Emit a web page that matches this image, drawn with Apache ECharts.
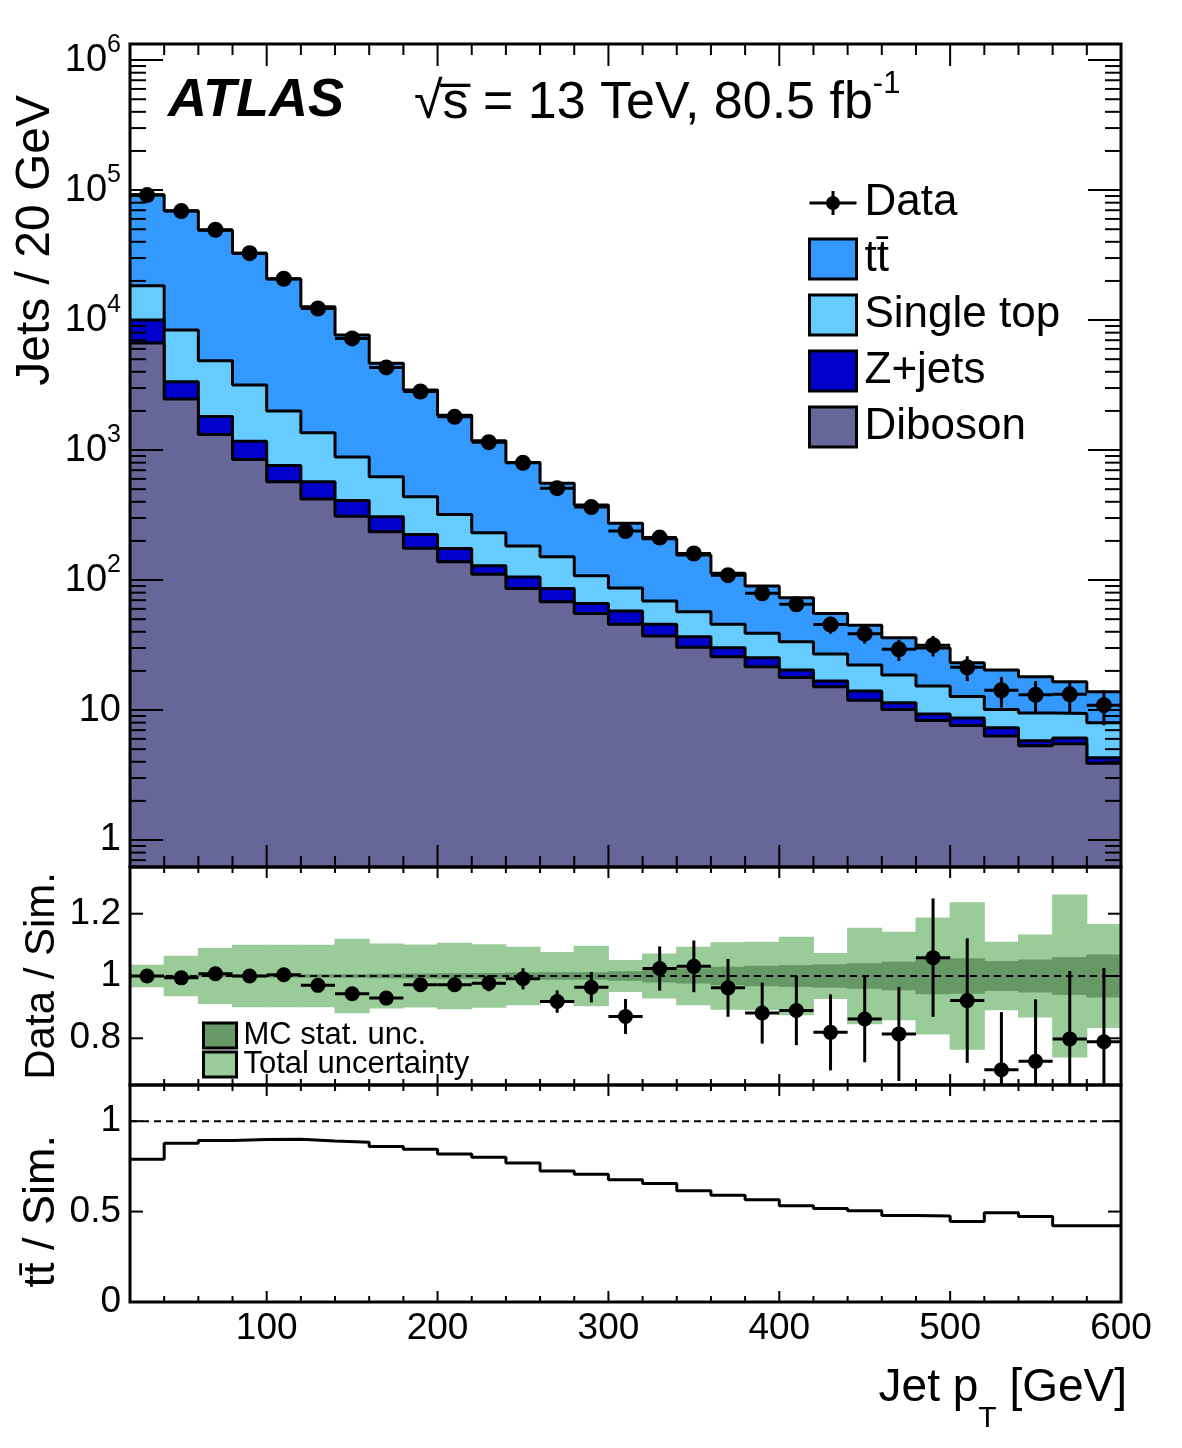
<!DOCTYPE html>
<html>
<head>
<meta charset="utf-8">
<title>Jet pT</title>
<script src="https://cdn.jsdelivr.net/npm/echarts@6/dist/echarts.min.js"></script>
<style>
  html, body { margin: 0; padding: 0; background: #ffffff; }
  #chart { width: 1182px; height: 1448px; }
</style>
</head>
<body>
<div id="chart"></div>
<script>
var FAMILY = '"Liberation Sans", Arial, Helvetica, sans-serif';

// binning: low edges in GeV, 20 GeV wide
var binLow = [20, 40, 60, 80, 100, 120, 140, 160, 180, 200, 220, 240, 260, 280, 300,
              320, 340, 360, 380, 400, 420, 440, 460, 480, 500, 520, 540, 560, 580];
var binWidth = 20;

// simulated yields per bin
var ttbar     = [73600, 60900, 44300, 29500, 18700, 11300, 6790, 4030, 2460, 1530, 949, 621, 404, 270, 186,
                 139, 99, 67.4, 51, 39.5, 28.4, 22.7, 17.4, 14.7, 10.4, 10.2, 8.5, 7.1, 5.8];
var singleTop = [8400, 5030, 3050, 1990, 1240, 790, 475, 316, 213, 145, 102, 77, 65, 42, 29.2,
                 23.4, 20.4, 15.4, 13.7, 13.2, 10.3, 8.2, 7.2, 6.0, 4.0, 2.8, 3.7, 3.3, 3.7];
var zJets     = [3350, 890, 500, 325, 190, 150, 100, 72, 48, 37, 18, 19.7, 18, 10.6, 12.2,
                 8.5, 6.2, 4.5, 3.8, 2.5, 1.6, 2.1, 1.3, 1.0, 1.1, 1.0, 0.5, 0.6, 0.4];
var diboson   = [6650, 2470, 1315, 845, 570, 420, 310, 235, 176, 138, 111, 86, 68, 55.4, 45.6,
                 37.1, 30.4, 25.7, 21.5, 17.8, 15.1, 11.9, 10.1, 8.3, 7.6, 6.3, 5.3, 5.5, 3.9];

// data
var dataCounts = [91500, 68900, 49500, 32700, 20800, 12270, 7230, 4320, 2820, 1800, 1150, 797, 509, 364, 238,
                  212, 160, 109, 79, 65, 45.4, 38.7, 29.3, 31.5, 21.3, 14.2, 13.1, 13.2, 10.9];

// data / sim ratio panel
var ratioData = [1.0, 0.994, 1.007, 1.0, 1.004, 0.970, 0.943, 0.929, 0.972, 0.972, 0.977, 0.991, 0.918, 0.964, 0.870,
                 1.024, 1.031, 0.962, 0.881, 0.889, 0.819, 0.862, 0.814, 1.059, 0.921, 0.699, 0.726, 0.798, 0.789];
var ratioErr  = [0.003, 0.004, 0.005, 0.006, 0.007, 0.009, 0.012, 0.015, 0.019, 0.023, 0.026, 0.034, 0.036, 0.049, 0.056,
                 0.071, 0.083, 0.093, 0.098, 0.111, 0.122, 0.139, 0.151, 0.190, 0.200, 0.185, 0.199, 0.218, 0.237];
var mcStatUnc = [0.003, 0.004, 0.004, 0.005, 0.005, 0.006, 0.006, 0.007, 0.008, 0.009, 0.010, 0.011, 0.012, 0.012, 0.015,
                 0.021, 0.024, 0.030, 0.033, 0.035, 0.038, 0.041, 0.046, 0.059, 0.057, 0.048, 0.053, 0.061, 0.069];
var totalUnc  = [0.036, 0.065, 0.090, 0.100, 0.100, 0.100, 0.120, 0.104, 0.101, 0.107, 0.102, 0.094, 0.077, 0.097, 0.051,
                 0.072, 0.094, 0.108, 0.110, 0.126, 0.074, 0.155, 0.142, 0.188, 0.237, 0.110, 0.133, 0.262, 0.167];

// ttbar / sim panel
var ttFraction = [0.790, 0.878, 0.893, 0.898, 0.900, 0.891, 0.884, 0.860, 0.845, 0.819, 0.801, 0.768, 0.725, 0.707, 0.676,
                  0.655, 0.615, 0.591, 0.565, 0.532, 0.517, 0.504, 0.478, 0.475, 0.445, 0.493, 0.473, 0.421, 0.421];

// ticks and labels
var xLabelValues = [100, 200, 300, 400, 500, 600];
var xLabelText = ['100', '200', '300', '400', '500', '600'];
var logTickValues = [1, 10, 100, 1000, 10000, 100000, 1000000];
var logTickText = ['{b|1}', '{b|10}', '{b|10}{s|2}', '{b|10}{s|3}', '{b|10}{s|4}', '{b|10}{s|5}', '{b|10}{s|6}'];
var ratioTickValues = [0.8, 1, 1.2];
var ratioTickText = ['0.8', '1', '1.2'];
var fracTickValues = [0, 0.5, 1];
var fracTickText = ['0', '0.5', '1'];

var X_MIN = 20, X_MAX = 600;
var TOP_MIN = 0.62, TOP_MAX = 1.33e6;

var chart = echarts.init(document.getElementById('chart'), null, { renderer: 'canvas' });

// cumulative stack edges
var n = binLow.length;
var cumDib = [], cumZ = [], cumST = [], cumTot = [];
for (var i = 0; i < n; i++) {
    cumDib.push(diboson[i]);
    cumZ.push(cumDib[i] + zJets[i]);
    cumST.push(cumZ[i] + singleTop[i]);
    cumTot.push(cumST[i] + ttbar[i]);
}

function stepData(vals) {
    var d = [];
    for (var i = 0; i < vals.length; i++) d.push([binLow[i], vals[i]]);
    d.push([binLow[n - 1] + binWidth, vals[n - 1]]);
    return d;
}

function stackSeries(name, vals, color, z) {
    return {
        name: name, type: 'line', xAxisIndex: 0, yAxisIndex: 0,
        step: 'end', data: stepData(vals), symbol: 'none', showSymbol: false,
        lineStyle: { color: '#000', width: 3 },
        itemStyle: { color: color },
        areaStyle: { color: color, opacity: 1, origin: 'start' },
        z: z, silent: true, animation: false
    };
}

function pointsSeries(name, gi, vals, errs, r, z) {
    return {
        name: name, type: 'custom', xAxisIndex: gi, yAxisIndex: gi, z: z,
        clip: true, silent: true, animation: false,
        itemStyle: { color: '#000' },
        data: vals.map(function (v, i) {
            return [binLow[i] + binWidth / 2, v, binLow[i], binLow[i] + binWidth, errs[i]];
        }),
        renderItem: function (params, api) {
            var xc = api.value(0), y = api.value(1), e = api.value(4);
            var c = api.coord([xc, y]);
            var l = api.coord([api.value(2), y]);
            var h = api.coord([api.value(3), y]);
            var up = api.coord([xc, y + e]);
            var dn = api.coord([xc, y - e]);
            var ls = { stroke: '#000', lineWidth: 3 };
            return {
                type: 'group',
                children: [
                    { type: 'line', shape: { x1: l[0], y1: c[1], x2: h[0], y2: c[1] }, style: ls },
                    { type: 'line', shape: { x1: c[0], y1: up[1], x2: c[0], y2: dn[1] }, style: ls },
                    { type: 'circle', shape: { cx: c[0], cy: c[1], r: r }, style: { fill: '#000' } }
                ]
            };
        }
    };
}

function bandSeries(name, errs, color, z) {
    return {
        name: name, type: 'custom', xAxisIndex: 1, yAxisIndex: 1, z: z,
        clip: true, silent: true, animation: false,
        itemStyle: { color: color },
        data: errs.map(function (e, i) { return [binLow[i], 1 + e, binLow[i] + binWidth, 1 - e]; }),
        renderItem: function (params, api) {
            var a = api.coord([api.value(0), api.value(1)]);
            var b = api.coord([api.value(2), api.value(3)]);
            return {
                type: 'rect',
                shape: { x: a[0] - 0.5, y: a[1], width: b[0] - a[0] + 1, height: b[1] - a[1] },
                style: { fill: color }
            };
        }
    };
}

function dashedOne(gi) {
    return {
        type: 'line', xAxisIndex: gi, yAxisIndex: gi, data: [[X_MIN, 1], [X_MAX, 1]],
        symbol: 'none', silent: true, animation: false, z: 12,
        lineStyle: { color: '#000', width: 2, type: [7, 5] }
    };
}

// frame, inward ticks on all four sides and tick labels
function decoSeries(gi, yRef, yMajor, yMajorText, yMinor, lens, rich, showXLabels) {
    var items = [{ kind: 'frame', x: X_MIN, y: yRef }];
    for (var v = X_MIN + 20; v < X_MAX; v += 20) {
        items.push({ kind: 'x', x: v, y: yRef, major: v % 100 === 0 });
    }
    yMajor.forEach(function (val, k) {
        items.push({ kind: 'y', x: X_MIN, y: val, major: true, label: yMajorText[k] });
    });
    yMinor.forEach(function (val) {
        items.push({ kind: 'y', x: X_MIN, y: val, major: false });
    });
    if (showXLabels) {
        xLabelValues.forEach(function (val, k) {
            items.push({ kind: 'xl', x: val, y: yRef, label: xLabelText[k] });
        });
    }
    return {
        type: 'custom', xAxisIndex: gi, yAxisIndex: gi, z: 30, clip: false, silent: true, animation: false,
        data: items.map(function (t) { return [t.x, t.y]; }),
        renderItem: function (params, api) {
            var t = items[params.dataIndex];
            var cs = params.coordSys;
            var L = cs.x, R = cs.x + cs.width, T = cs.y, B = cs.y + cs.height;
            var p = api.coord([t.x, t.y]);
            var ls = { stroke: '#000', lineWidth: 2 };
            var len;
            if (t.kind === 'frame') {
                return { type: 'rect', shape: { x: L, y: T, width: cs.width, height: cs.height },
                         style: { fill: 'none', stroke: '#000', lineWidth: 3 } };
            }
            if (t.kind === 'x') {
                len = t.major ? lens.xMaj : lens.xMin;
                return { type: 'group', children: [
                    { type: 'line', shape: { x1: p[0], y1: B, x2: p[0], y2: B - len }, style: ls },
                    { type: 'line', shape: { x1: p[0], y1: T, x2: p[0], y2: T + len }, style: ls }
                ] };
            }
            if (t.kind === 'xl') {
                return { type: 'text', x: p[0], y: B + 8,
                         style: { text: t.label, fontSize: 37, fontFamily: FAMILY, fill: '#000',
                                  align: 'center', verticalAlign: 'top' } };
            }
            len = t.major ? lens.yMaj : lens.yMin;
            var ch = [
                { type: 'line', shape: { x1: L, y1: p[1], x2: L + len, y2: p[1] }, style: ls },
                { type: 'line', shape: { x1: R, y1: p[1], x2: R - len, y2: p[1] }, style: ls }
            ];
            if (t.label) {
                var st = { text: t.label, fontSize: 37, fontFamily: FAMILY, fill: '#000',
                           align: 'right', verticalAlign: 'middle' };
                if (rich) st.rich = rich;
                ch.push({ type: 'text', x: L - 9, y: p[1], style: st });
            }
            return { type: 'group', children: ch };
        }
    };
}

// minor ticks of the log axis: 2..9 x 10^k
var logMinor = [];
for (var d = -1; d <= 6; d++) {
    for (var m = 2; m <= 9; m++) {
        var mv = m * Math.pow(10, d);
        if (mv > TOP_MIN && mv < TOP_MAX) logMinor.push(mv);
    }
}

var logRich = {
    b: { fontSize: 38, fontFamily: FAMILY, fill: '#000' },
    s: { fontSize: 25, fontFamily: FAMILY, fill: '#000', padding: [0, 0, 30, 0] }
};

var hiddenX = function (gi) {
    return { gridIndex: gi, type: 'value', min: X_MIN, max: X_MAX,
             axisLine: { show: false }, axisTick: { show: false }, axisLabel: { show: false },
             splitLine: { show: false }, minorTick: { show: false } };
};

var option = {
    animation: false,
    backgroundColor: '#ffffff',
    grid: [
        { left: 130, top: 44, width: 991, height: 823, outerBoundsMode: 'none' },
        { left: 130, top: 867, width: 991, height: 218, outerBoundsMode: 'none' },
        { left: 130, top: 1085, width: 991, height: 217, outerBoundsMode: 'none' }
    ],
    xAxis: [hiddenX(0), hiddenX(1), hiddenX(2)],
    yAxis: [
        { gridIndex: 0, type: 'log', logBase: 10, min: TOP_MIN, max: TOP_MAX,
          axisLine: { show: false }, axisTick: { show: false }, axisLabel: { show: false },
          splitLine: { show: false }, minorTick: { show: false } },
        { gridIndex: 1, type: 'value', min: 0.65, max: 1.35,
          axisLine: { show: false }, axisTick: { show: false }, axisLabel: { show: false },
          splitLine: { show: false } },
        { gridIndex: 2, type: 'value', min: 0, max: 1.2,
          axisLine: { show: false }, axisTick: { show: false }, axisLabel: { show: false },
          splitLine: { show: false } }
    ],
    legend: [
        {
            orient: 'vertical', left: 803, top: 176, itemWidth: 47, itemHeight: 40, itemGap: 12,
            selectedMode: false,
            textStyle: { fontSize: 44, fontFamily: FAMILY, color: '#000', padding: [0, 0, 0, 3], lineHeight: 43 },
            data: [
                { name: 'Data', icon: 'path://M0,0h0.1v0.1h-0.1z M46.9,39.9h0.1v0.1h-0.1z M0,18.5h47v3H0z M22,8h3v24h-3z M30.5,20a7,7 0 1,1 -14,0a7,7 0 1,1 14,0z',
                  itemStyle: { color: '#000', borderWidth: 0 } },
                { name: 'tt\u0304', icon: 'rect', itemStyle: { color: '#3399ff', borderColor: '#000', borderWidth: 3 } },
                { name: 'Single top', icon: 'rect', itemStyle: { color: '#66ccff', borderColor: '#000', borderWidth: 3 } },
                { name: 'Z+jets', icon: 'rect', itemStyle: { color: '#0000cc', borderColor: '#000', borderWidth: 3 } },
                { name: 'Diboson', icon: 'rect', itemStyle: { color: '#666699', borderColor: '#000', borderWidth: 3 } }
            ]
        },
        {
            orient: 'vertical', left: 197, top: 1015, itemWidth: 33, itemHeight: 25, itemGap: -2,
            selectedMode: false,
            textStyle: { fontSize: 31, fontFamily: FAMILY, color: '#000', padding: [0, 0, 0, 2], lineHeight: 27 },
            data: [
                { name: 'MC stat. unc.', icon: 'rect', itemStyle: { color: '#669966', borderColor: '#000', borderWidth: 3 } },
                { name: 'Total uncertainty', icon: 'rect', itemStyle: { color: '#99cc99', borderColor: '#000', borderWidth: 3 } }
            ]
        }
    ],
    graphic: [
        { type: 'text', x: 168, y: 101,
          style: { text: 'ATLAS', font: 'italic bold 54px ' + FAMILY, fill: '#000', verticalAlign: 'middle' } },
        { type: 'text', x: 414, y: 104,
          style: { text: '{a|\u221As\u0305 = 13 TeV, 80.5 fb}{s|-1}', verticalAlign: 'middle', fill: '#000',
                   rich: { a: { fontSize: 52, fontFamily: FAMILY, fill: '#000' },
                           s: { fontSize: 31, fontFamily: FAMILY, fill: '#000', padding: [0, 0, 40, 0] } } } },
        { type: 'text', x: 36, y: 95, rotation: Math.PI / 2,
          style: { text: 'Jets / 20 GeV', fontSize: 48, fontFamily: FAMILY, fill: '#000',
                   align: 'right', verticalAlign: 'middle' } },
        { type: 'text', x: 42, y: 872, rotation: Math.PI / 2,
          style: { text: 'Data / Sim.', fontSize: 42, fontFamily: FAMILY, fill: '#000',
                   align: 'right', verticalAlign: 'middle' } },
        { type: 'text', x: 42, y: 1135, rotation: Math.PI / 2,
          style: { text: 'tt\u0304 / Sim.', fontSize: 45, fontFamily: FAMILY, fill: '#000',
                   align: 'right', verticalAlign: 'middle' } },
        { type: 'text', x: 1127, y: 1388,
          style: { text: '{a|Jet p}{t|T}{a| [GeV]}', align: 'right', verticalAlign: 'middle', fill: '#000',
                   rich: { a: { fontSize: 46, fontFamily: FAMILY, fill: '#000' },
                           t: { fontSize: 30, fontFamily: FAMILY, fill: '#000', padding: [62, 0, 0, 0] } } } }
    ],
    series: [
        stackSeries('tt\u0304', cumTot, '#3399ff', 2),
        stackSeries('Single top', cumST, '#66ccff', 3),
        stackSeries('Z+jets', cumZ, '#0000cc', 4),
        stackSeries('Diboson', cumDib, '#666699', 5),
        pointsSeries('Data', 0, dataCounts, dataCounts.map(function (v, i) { return v * ratioErr[i] / ratioData[i]; }), 8, 15),
        decoSeries(0, TOP_MIN * 2, logTickValues, logTickText, logMinor, { xMaj: 22, xMin: 11, yMaj: 33, yMin: 16 }, logRich, false),

        bandSeries('Total uncertainty', totalUnc, '#99cc99', 2),
        bandSeries('MC stat. unc.', mcStatUnc, '#669966', 3),
        dashedOne(1),
        pointsSeries('ratio', 1, ratioData, ratioErr, 7.5, 15),
        decoSeries(1, 1, ratioTickValues, ratioTickText, [], { xMaj: 11, xMin: 6, yMaj: 13, yMin: 6 }, null, false),

        dashedOne(2),
        {
            type: 'line', xAxisIndex: 2, yAxisIndex: 2, step: 'end', data: stepData(ttFraction),
            symbol: 'none', silent: true, animation: false, z: 10,
            lineStyle: { color: '#000', width: 3 }
        },
        decoSeries(2, 0.5, fracTickValues, fracTickText, [], { xMaj: 11, xMin: 6, yMaj: 13, yMin: 6 }, null, true)
    ]
};

chart.setOption(option);
</script>
</body>
</html>
